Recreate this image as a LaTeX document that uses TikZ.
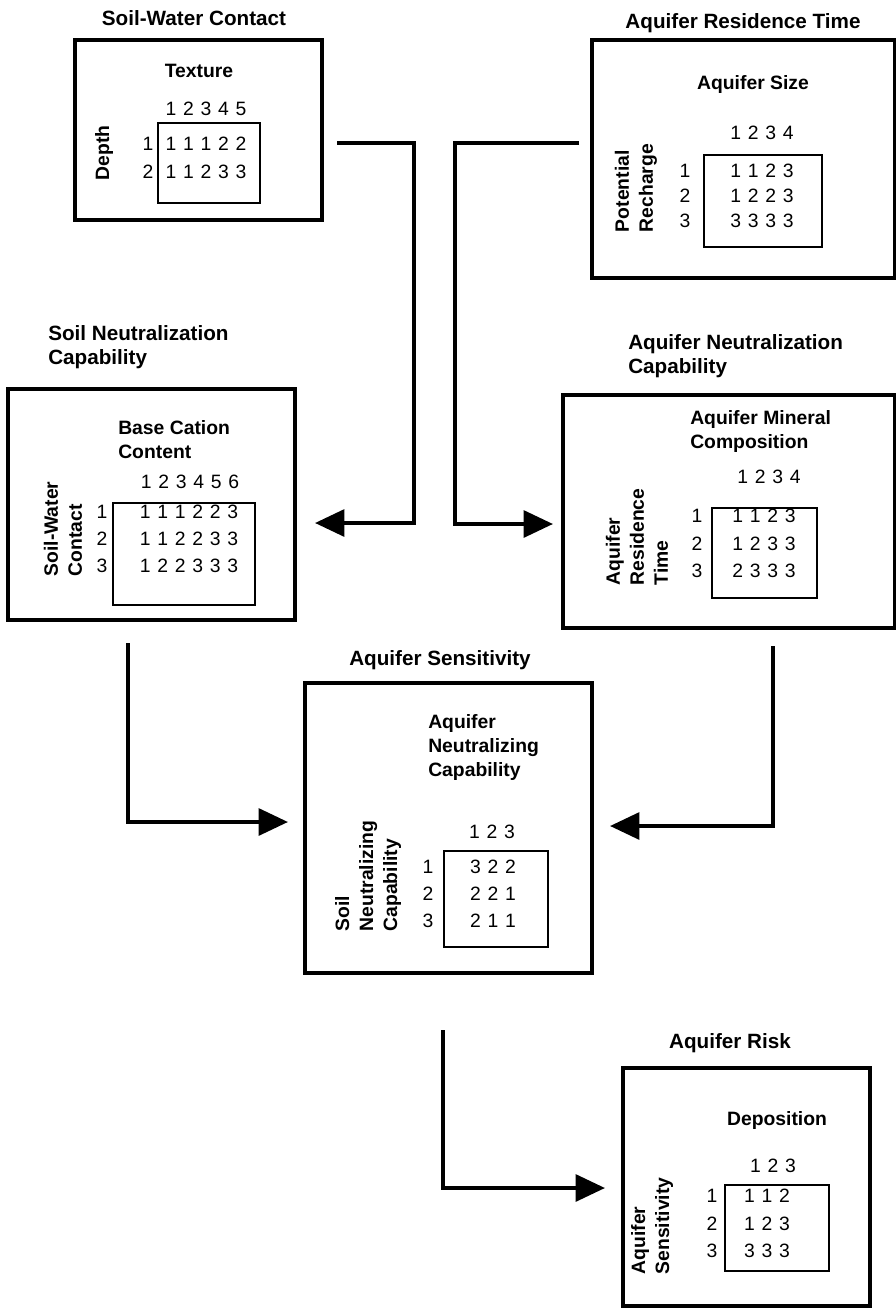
\documentclass[tikz,border=0pt]{standalone}
\usepackage{fontspec}
\setmainfont{Liberation Sans}
\usetikzlibrary{arrows.meta,fit}
\newlength\dpitch
\setlength\dpitch{13.1pt}
\makeatletter
\newcommand\drow[1]{\@tfor\mydig:=#1\do{\makebox[\dpitch][c]{\mydig}}}
\makeatother
\tikzset{
  bigbox/.style={draw, line width=3pt, inner sep=0pt},
  gridbox/.style={draw, line width=1.6pt, inner sep=0pt},
  ttl/.style={font=\fontsize{15.5}{18}\selectfont\bfseries, inner sep=0pt},
  lbl/.style={font=\fontsize{14.5}{18}\selectfont\bfseries, inner sep=0pt},
  num/.style={font=\fontsize{14.5}{16}\selectfont, inner sep=0pt, anchor=base},
  arr/.style={line width=3pt, -{Triangle[length=22pt,width=20pt]}},
}
\begin{document}
\begin{tikzpicture}[x=0.75pt,y=-0.75pt]
\useasboundingbox (0,0) rectangle (896,1311);

% ---------- Box 1: Soil-Water Contact ----------
\node[bigbox, fit={(75,40) (322,220)}] (b1) {};
\node[ttl, anchor=base] (t1) at (194,25) {Soil-Water Contact};
\node[lbl, anchor=base] (b1h) at (199,77) {Texture};
\node[num] (b1c) at (206,115) {\drow{12345}};
\node[gridbox, fit={(158,123) (260,203)}] (g1) {};
\node[num] (b1r1) at (206,150) {\drow{11122}};
\node[num] (b1r2) at (206,178) {\drow{11233}};
\node[num] (b1l1) at (148,150) {1};
\node[num] (b1l2) at (148,178) {2};
\node[lbl, rotate=90] (b1y) at (104,153) {Depth};

% ---------- Box 2: Aquifer Residence Time ----------
\node[bigbox, fit={(592,40) (895,278)}] (b2) {};
\node[ttl, anchor=base] (t2) at (743,28) {Aquifer Residence Time};
\node[lbl, anchor=base] (b2h) at (753,89) {Aquifer Size};
\node[num] (b2c) at (762,139) {\drow{1234}};
\node[gridbox, fit={(704,155) (822,247)}] (g2) {};
\node[num] (b2r1) at (762,177) {\drow{1123}};
\node[num] (b2r2) at (762,202) {\drow{1223}};
\node[num] (b2r3) at (762,227) {\drow{3333}};
\node[num] (b2l1) at (685,177) {1};
\node[num] (b2l2) at (685,202) {2};
\node[num] (b2l3) at (685,227) {3};
\node[lbl, rotate=90, align=left] (b2y) at (636,188) {Potential\\Recharge};

% ---------- Box 3: Soil Neutralization Capability ----------
\node[bigbox, fit={(8,389) (295,620)}] (b3) {};
\node[ttl, anchor=north west, align=left] (t3) at (48,325) {Soil Neutralization\\Capability};
\node[lbl, anchor=north west, align=left] (b3h) at (118,420) {Base Cation\\Content};
\node[num] (b3c) at (190,488) {\drow{123456}};
\node[gridbox, fit={(113,503) (255,605)}] (g3) {};
\node[num] (b3r1) at (189,518) {\drow{111223}};
\node[num] (b3r2) at (189,545) {\drow{112233}};
\node[num] (b3r3) at (189,572) {\drow{122333}};
\node[num] (b3l1) at (102,518) {1};
\node[num] (b3l2) at (102,545) {2};
\node[num] (b3l3) at (102,572) {3};
\node[lbl, rotate=90, align=left] (b3y) at (63,529) {Soil-Water\\Contact};

% ---------- Box 4: Aquifer Neutralization Capability ----------
\node[bigbox, fit={(563,395) (895,628)}] (b4) {};
\node[ttl, anchor=north west, align=left] (t4) at (628,334) {Aquifer Neutralization\\Capability};
\node[lbl, anchor=north west, align=left] (b4h) at (690,410) {Aquifer Mineral\\Composition};
\node[num] (b4c) at (769,483) {\drow{1234}};
\node[gridbox, fit={(712,508) (817,598)}] (g4) {};
\node[num] (b4r1) at (764,522) {\drow{1123}};
\node[num] (b4r2) at (764,550) {\drow{1233}};
\node[num] (b4r3) at (764,577) {\drow{2333}};
\node[num] (b4l1) at (697,522) {1};
\node[num] (b4l2) at (697,550) {2};
\node[num] (b4l3) at (697,577) {3};
\node[lbl, rotate=90, align=left] (b4y) at (637,537) {Aquifer\\Residence\\Time};

% ---------- Box 5: Aquifer Sensitivity ----------
\node[bigbox, fit={(305,683) (592,973)}] (b5) {};
\node[ttl, anchor=base] (t5) at (440,665) {Aquifer Sensitivity};
\node[lbl, anchor=north west, align=left] (b5h) at (428,714) {Aquifer\\Neutralizing\\Capability};
\node[num] (b5c) at (492,838) {\drow{123}};
\node[gridbox, fit={(444,851) (548,947)}] (g5) {};
\node[num] (b5r1) at (493,873) {\drow{322}};
\node[num] (b5r2) at (493,900) {\drow{221}};
\node[num] (b5r3) at (493,927) {\drow{211}};
\node[num] (b5l1) at (428,873) {1};
\node[num] (b5l2) at (428,900) {2};
\node[num] (b5l3) at (428,927) {3};
\node[lbl, rotate=90, align=left] (b5y) at (368,876) {Soil\\Neutralizing\\Capability};

% ---------- Box 6: Aquifer Risk ----------
\node[bigbox, fit={(623,1068) (870,1306)}] (b6) {};
\node[ttl, anchor=base] (t6) at (730,1048) {Aquifer Risk};
\node[lbl, anchor=base] (b6h) at (777,1125) {Deposition};
\node[num] (b6c) at (773,1172) {\drow{123}};
\node[gridbox, fit={(725,1185) (829,1271)}] (g6) {};
\node[num] (b6r1) at (767,1202) {\drow{112}};
\node[num] (b6r2) at (767,1230) {\drow{123}};
\node[num] (b6r3) at (767,1257) {\drow{333}};
\node[num] (b6l1) at (712,1202) {1};
\node[num] (b6l2) at (712,1230) {2};
\node[num] (b6l3) at (712,1257) {3};
\node[lbl, rotate=90, align=left] (b6y) at (652,1226) {Aquifer\\Sensitivity};

% ---------- Connectors ----------
\coordinate (a1s) at (337,143);
\coordinate (a1k) at (414,523);
\coordinate (a1e) at (315,523);
\draw[arr] (a1s) -| (a1k) -- (a1e);

\coordinate (a2s) at (579,143);
\coordinate (a2k) at (455,524);
\coordinate (a2e) at (553,524);
\draw[arr] (a2s) -| (a2k) -- (a2e);

\coordinate (a3s) at (128,643);
\coordinate (a3e) at (288,822);
\draw[arr] (a3s) |- (a3e);

\coordinate (a4s) at (773,646);
\coordinate (a4e) at (610,826);
\draw[arr] (a4s) |- (a4e);

\coordinate (a5s) at (443,1030);
\coordinate (a5e) at (605,1188);
\draw[arr] (a5s) |- (a5e);
\end{tikzpicture}
\end{document}
